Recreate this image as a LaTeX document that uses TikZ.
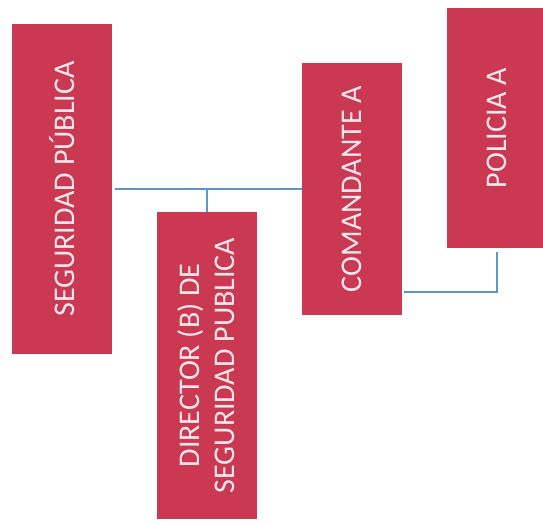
\documentclass[tikz,border=0pt]{standalone}
\usepackage{fontspec}
\setmainfont{Carlito}
\definecolor{cajaroja}{RGB}{202,56,82}
\definecolor{lineaazul}{RGB}{95,150,200}
\definecolor{textoclaro}{RGB}{252,232,236}

\tikzset{enlace/.style={draw=lineaazul, line width=2pt}}

\begin{document}
\begin{tikzpicture}[x=1pt,y=1pt]

        \useasboundingbox[fill=white] (0,0) rectangle (543,523);

        \begin{scope}[every node/.style={fill=cajaroja, text=textoclaro, rotate=90, minimum height=100pt, inner sep=0pt, align=center, font=\fontsize{30}{35}\selectfont}]
          \node[minimum width=329pt] (seg) at (62,334)    {SEGURIDAD PÚBLICA};
          \node[minimum width=307pt] (dir) at (206.5,157.5) {DIRECTOR (B) DE\\SEGURIDAD PUBLICA};
          \node[minimum width=251pt] (com) at (352,334)   {COMANDANTE A};
          \node[minimum width=240pt] (pol) at (497,395)   {POLICIA A};
        \end{scope}

        \draw[enlace] ([xshift=3pt]seg.south) -- (com.north);
        \draw[enlace] (dir.east) -- (dir.east |- seg.south);
        \draw[enlace] ([xshift=2pt,yshift=23pt]com.south west) -| ([yshift=-4pt]pol.west);

      \end{tikzpicture}
\end{document}
